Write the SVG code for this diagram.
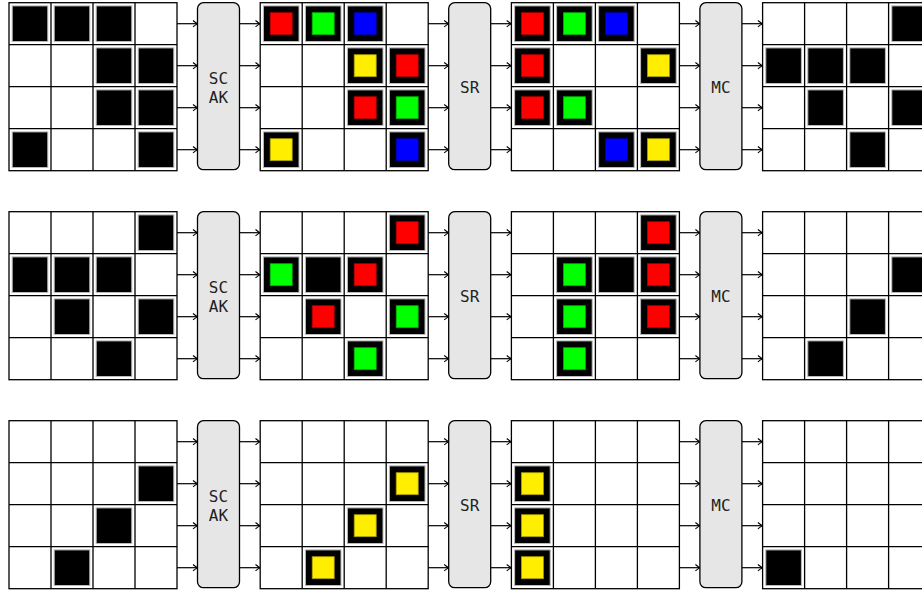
<svg xmlns="http://www.w3.org/2000/svg" xmlns:xlink="http://www.w3.org/1999/xlink" width="922" height="593" viewBox="0 0 922 593">
<style>
.gb{fill:#fff;stroke:#000;stroke-width:1.3}
.gl{fill:none;stroke:#000;stroke-width:1.3}
.bx{fill:#e6e6e6;stroke:#000;stroke-width:1.3}
.tx{font-family:"DejaVu Sans Mono","Liberation Mono",monospace;font-size:16px;fill:#222;text-anchor:middle}
.cn path{fill:none;stroke:#000;stroke-width:1.2;marker-end:url(#ah)}
</style>
<defs>
<marker id="ah" markerUnits="userSpaceOnUse" markerWidth="8" markerHeight="8" viewBox="0 0 8 8" refX="7" refY="4" orient="auto">
<path d="M2.5,0.8 Q5.5,3.3 7,4 Q5.5,4.7 2.5,7.2" fill="none" stroke="#000" stroke-width="1.1"/>
</marker>
<g id="k"><rect x="3.2" y="3.2" width="35.6" height="35.6" fill="#000" stroke="#bbb" stroke-width="1"/></g>
<g id="cr"><use xlink:href="#k"/><rect x="10" y="10" width="22" height="22" fill="#ff0000" stroke="#a00" stroke-width="0.8"/></g>
<g id="cg"><use xlink:href="#k"/><rect x="10" y="10" width="22" height="22" fill="#00ff00" stroke="#0a0" stroke-width="0.8"/></g>
<g id="cb"><use xlink:href="#k"/><rect x="10" y="10" width="22" height="22" fill="#0000ff" stroke="#00a" stroke-width="0.8"/></g>
<g id="cy"><use xlink:href="#k"/><rect x="10" y="10" width="22" height="22" fill="#ffee00" stroke="#a90" stroke-width="0.8"/></g>
<g id="grid"><rect class="gb" width="168" height="168"/><path class="gl" d="M42 0V168M84 0V168M126 0V168M0 42H168M0 84H168M0 126H168"/></g>
</defs>

<g id="connectors" class="cn">
<g id="band0" transform="translate(0,2.7)">
<path d="M177 21H197.5"/><path d="M177 63H197.5"/><path d="M177 105H197.5"/><path d="M177 147H197.5"/>
<path d="M239.5 21H260"/><path d="M239.5 63H260"/><path d="M239.5 105H260"/><path d="M239.5 147H260"/>
<path d="M428.2 21H448.7"/><path d="M428.2 63H448.7"/><path d="M428.2 105H448.7"/><path d="M428.2 147H448.7"/>
<path d="M490.7 21H511.2"/><path d="M490.7 63H511.2"/><path d="M490.7 105H511.2"/><path d="M490.7 147H511.2"/>
<path d="M679.4 21H699.9"/><path d="M679.4 63H699.9"/><path d="M679.4 105H699.9"/><path d="M679.4 147H699.9"/>
<path d="M741.9 21H762.4"/><path d="M741.9 63H762.4"/><path d="M741.9 105H762.4"/><path d="M741.9 147H762.4"/>
</g>
<use xlink:href="#band0" y="209"/>
<use xlink:href="#band0" y="418"/>
</g>

<!-- Band 0 -->
<g id="r0-state0" transform="translate(9,2.7)"><use xlink:href="#grid"/>
<use xlink:href="#k" x="0" y="0"/><use xlink:href="#k" x="42" y="0"/><use xlink:href="#k" x="84" y="0"/>
<use xlink:href="#k" x="84" y="42"/><use xlink:href="#k" x="126" y="42"/>
<use xlink:href="#k" x="84" y="84"/><use xlink:href="#k" x="126" y="84"/>
<use xlink:href="#k" x="0" y="126"/><use xlink:href="#k" x="126" y="126"/>
</g>
<g id="r0-scak" transform="translate(197.5,2.7)"><rect class="bx" width="42" height="167" rx="6"/><text class="tx" x="21" y="81">SC</text><text class="tx" x="21" y="100">AK</text></g>
<g id="r0-state1" transform="translate(260.2,2.7)"><use xlink:href="#grid"/>
<use xlink:href="#cr" x="0" y="0"/><use xlink:href="#cg" x="42" y="0"/><use xlink:href="#cb" x="84" y="0"/>
<use xlink:href="#cy" x="84" y="42"/><use xlink:href="#cr" x="126" y="42"/>
<use xlink:href="#cr" x="84" y="84"/><use xlink:href="#cg" x="126" y="84"/>
<use xlink:href="#cy" x="0" y="126"/><use xlink:href="#cb" x="126" y="126"/>
</g>
<g id="r0-sr" transform="translate(448.7,2.7)"><rect class="bx" width="42" height="167" rx="6"/><text class="tx" x="21" y="90">SR</text></g>
<g id="r0-state2" transform="translate(511.4,2.7)"><use xlink:href="#grid"/>
<use xlink:href="#cr" x="0" y="0"/><use xlink:href="#cg" x="42" y="0"/><use xlink:href="#cb" x="84" y="0"/>
<use xlink:href="#cr" x="0" y="42"/><use xlink:href="#cy" x="126" y="42"/>
<use xlink:href="#cr" x="0" y="84"/><use xlink:href="#cg" x="42" y="84"/>
<use xlink:href="#cb" x="84" y="126"/><use xlink:href="#cy" x="126" y="126"/>
</g>
<g id="r0-mc" transform="translate(699.9,2.7)"><rect class="bx" width="42" height="167" rx="6"/><text class="tx" x="21" y="90">MC</text></g>
<g id="r0-state3" transform="translate(762.6,2.7)"><use xlink:href="#grid"/>
<use xlink:href="#k" x="126" y="0"/>
<use xlink:href="#k" x="0" y="42"/><use xlink:href="#k" x="42" y="42"/><use xlink:href="#k" x="84" y="42"/>
<use xlink:href="#k" x="42" y="84"/><use xlink:href="#k" x="126" y="84"/>
<use xlink:href="#k" x="84" y="126"/>
</g>

<!-- Band 1 -->
<g id="r1-state0" transform="translate(9,211.7)"><use xlink:href="#grid"/>
<use xlink:href="#k" x="126" y="0"/>
<use xlink:href="#k" x="0" y="42"/><use xlink:href="#k" x="42" y="42"/><use xlink:href="#k" x="84" y="42"/>
<use xlink:href="#k" x="42" y="84"/><use xlink:href="#k" x="126" y="84"/>
<use xlink:href="#k" x="84" y="126"/>
</g>
<g id="r1-scak" transform="translate(197.5,211.7)"><rect class="bx" width="42" height="167" rx="6"/><text class="tx" x="21" y="81">SC</text><text class="tx" x="21" y="100">AK</text></g>
<g id="r1-state1" transform="translate(260.2,211.7)"><use xlink:href="#grid"/>
<use xlink:href="#cr" x="126" y="0"/>
<use xlink:href="#cg" x="0" y="42"/><use xlink:href="#k" x="42" y="42"/><use xlink:href="#cr" x="84" y="42"/>
<use xlink:href="#cr" x="42" y="84"/><use xlink:href="#cg" x="126" y="84"/>
<use xlink:href="#cg" x="84" y="126"/>
</g>
<g id="r1-sr" transform="translate(448.7,211.7)"><rect class="bx" width="42" height="167" rx="6"/><text class="tx" x="21" y="90">SR</text></g>
<g id="r1-state2" transform="translate(511.4,211.7)"><use xlink:href="#grid"/>
<use xlink:href="#cr" x="126" y="0"/>
<use xlink:href="#cg" x="42" y="42"/><use xlink:href="#k" x="84" y="42"/><use xlink:href="#cr" x="126" y="42"/>
<use xlink:href="#cg" x="42" y="84"/><use xlink:href="#cr" x="126" y="84"/>
<use xlink:href="#cg" x="42" y="126"/>
</g>
<g id="r1-mc" transform="translate(699.9,211.7)"><rect class="bx" width="42" height="167" rx="6"/><text class="tx" x="21" y="90">MC</text></g>
<g id="r1-state3" transform="translate(762.6,211.7)"><use xlink:href="#grid"/>
<use xlink:href="#k" x="126" y="42"/><use xlink:href="#k" x="84" y="84"/><use xlink:href="#k" x="42" y="126"/>
</g>

<!-- Band 2 -->
<g id="r2-state0" transform="translate(9,420.7)"><use xlink:href="#grid"/>
<use xlink:href="#k" x="126" y="42"/><use xlink:href="#k" x="84" y="84"/><use xlink:href="#k" x="42" y="126"/>
</g>
<g id="r2-scak" transform="translate(197.5,420.7)"><rect class="bx" width="42" height="167" rx="6"/><text class="tx" x="21" y="81">SC</text><text class="tx" x="21" y="100">AK</text></g>
<g id="r2-state1" transform="translate(260.2,420.7)"><use xlink:href="#grid"/>
<use xlink:href="#cy" x="126" y="42"/><use xlink:href="#cy" x="84" y="84"/><use xlink:href="#cy" x="42" y="126"/>
</g>
<g id="r2-sr" transform="translate(448.7,420.7)"><rect class="bx" width="42" height="167" rx="6"/><text class="tx" x="21" y="90">SR</text></g>
<g id="r2-state2" transform="translate(511.4,420.7)"><use xlink:href="#grid"/>
<use xlink:href="#cy" x="0" y="42"/><use xlink:href="#cy" x="0" y="84"/><use xlink:href="#cy" x="0" y="126"/>
</g>
<g id="r2-mc" transform="translate(699.9,420.7)"><rect class="bx" width="42" height="167" rx="6"/><text class="tx" x="21" y="90">MC</text></g>
<g id="r2-state3" transform="translate(762.6,420.7)"><use xlink:href="#grid"/>
<use xlink:href="#k" x="0" y="126"/>
</g>
</svg>
